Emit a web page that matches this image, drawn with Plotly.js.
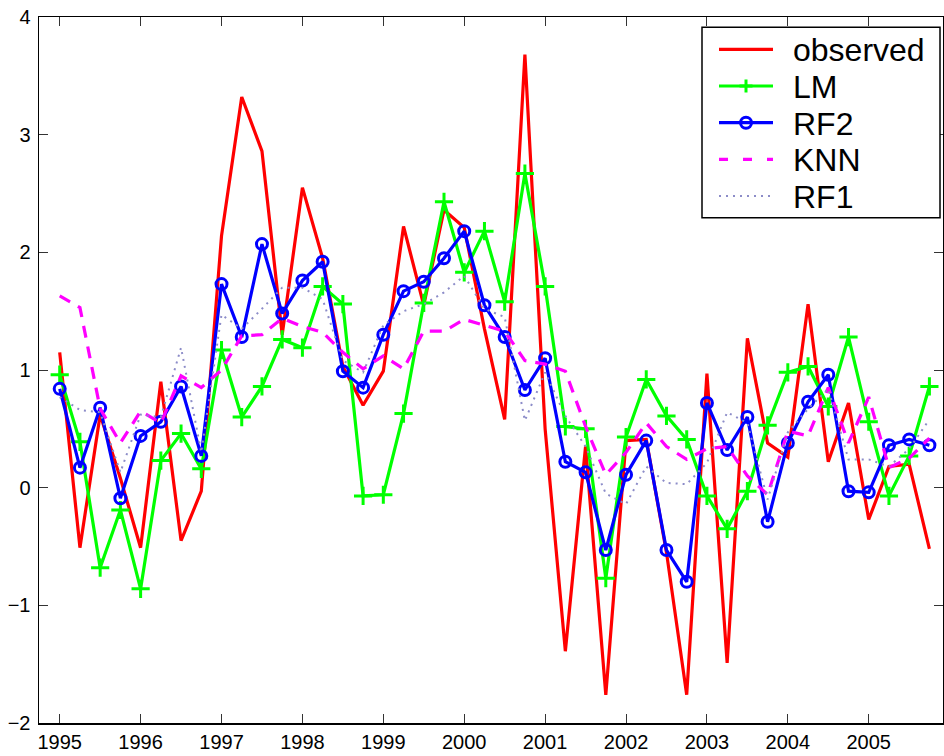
<!DOCTYPE html>
<html>
<head>
<meta charset="utf-8">
<script src="https://cdn.plot.ly/plotly-3.0.1.min.js"></script>
<style>
  html, body { margin: 0; padding: 0; background: #ffffff; }
  #chart { width: 944px; height: 756px; }
</style>
</head>
<body>
<div id="chart"></div>
<script>
// Quarterly time points (1995 Q1 .. 2005 Q4)
const quarters = [
  1995.00, 1995.25, 1995.50, 1995.75, 1996.00, 1996.25, 1996.50, 1996.75,
  1997.00, 1997.25, 1997.50, 1997.75, 1998.00, 1998.25, 1998.50, 1998.75,
  1999.00, 1999.25, 1999.50, 1999.75, 2000.00, 2000.25, 2000.50, 2000.75,
  2001.00, 2001.25, 2001.50, 2001.75, 2002.00, 2002.25, 2002.50, 2002.75,
  2003.00, 2003.25, 2003.50, 2003.75, 2004.00, 2004.25, 2004.50, 2004.75,
  2005.00, 2005.25, 2005.50, 2005.75
];

const observed = [
  1.15, -0.51, 0.62, 0.08, -0.51, 0.90, -0.45, -0.03,
  2.14, 3.32, 2.86, 1.30, 2.55, 1.95, 1.03, 0.70,
  0.99, 2.22, 1.55, 2.36, 2.21, 1.35, 0.58, 3.68,
  0.50, -1.39, 0.35, -1.76, 0.40, 0.41, -0.55, -1.76,
  0.97, -1.49, 1.27, 0.38, 0.26, 1.56, 0.22, 0.72,
  -0.27, 0.18, 0.20, -0.52
];

const LM = [
  0.96, 0.39, -0.68, -0.19, -0.86, 0.23, 0.46, 0.16,
  1.17, 0.60, 0.86, 1.26, 1.19, 1.71, 1.56, -0.07,
  -0.06, 0.63, 1.57, 2.43, 1.83, 2.18, 1.58, 2.67,
  1.71, 0.52, 0.50, -0.77, 0.43, 0.92, 0.61, 0.41,
  -0.07, -0.35, -0.03, 0.53, 0.98, 1.03, 0.69, 1.28,
  0.56, -0.07, 0.27, 0.86
];

const RF2 = [
  0.84, 0.17, 0.68, -0.09, 0.44, 0.56, 0.86, 0.27,
  1.73, 1.28, 2.07, 1.48, 1.76, 1.92, 0.99, 0.85,
  1.30, 1.67, 1.75, 1.95, 2.18, 1.55, 1.28, 0.83,
  1.10, 0.22, 0.13, -0.53, 0.11, 0.40, -0.53, -0.80,
  0.72, 0.32, 0.60, -0.29, 0.38, 0.73, 0.96, -0.03,
  -0.04, 0.36, 0.41, 0.36
];

const KNN = [
  1.63, 1.53, 0.67, 0.38, 0.65, 0.55, 0.95, 0.85,
  1.00, 1.29, 1.30, 1.44, 1.37, 1.32, 1.15, 1.01,
  1.12, 1.01, 1.33, 1.33, 1.43, 1.38, 1.33, 1.08,
  1.05, 0.99, 0.52, 0.11, 0.30, 0.55, 0.35, 0.24,
  0.33, 0.35, 0.10, -0.06, 0.48, 0.44, 0.85, 0.38,
  0.77, 0.17, 0.25, 0.42
];

const RF1 = [
  0.77, 0.66, 0.64, 0.13, 0.62, 0.60, 1.19, 0.30,
  1.47, 1.35, 1.52, 1.70, 1.70, 1.60, 1.08, 0.98,
  1.38, 1.50, 1.56, 1.66, 1.80, 1.52, 1.45, 0.57,
  0.98, 0.61, 0.35, -0.05, -0.14, 0.18, 0.04, 0.03,
  0.21, 0.64, 0.55, -0.10, 0.47, 0.67, 0.84, 0.24,
  0.24, 0.18, 0.33, 0.58
];

const yearTicks = [1995, 1996, 1997, 1998, 1999, 2000, 2001, 2002, 2003, 2004, 2005];
const yearLabels = ["1995", "1996", "1997", "1998", "1999", "2000", "2001", "2002", "2003", "2004", "2005"];
const yTicks = [-2, -1, 0, 1, 2, 3, 4];
const yLabels = ["\u22122", "\u22121", "0", "1", "2", "3", "4"];
const seriesNames = ["observed", "LM", "RF2", "KNN", "RF1"];

const FONT = "Liberation Sans, Arial, Helvetica, sans-serif";
const COLORS = { observed: "#ff0000", LM: "#00ff00", RF2: "#0000ff", KNN: "#ff00ff", RF1: "#8c8cc8" };

const traces = [
  {
    x: quarters, y: observed, name: seriesNames[0], type: "scatter", mode: "lines",
    line: { color: COLORS.observed, width: 3.2 }, showlegend: false
  },
  {
    x: quarters, y: LM, name: seriesNames[1], type: "scatter", mode: "lines+markers",
    line: { color: COLORS.LM, width: 3.2 },
    marker: { symbol: "cross-thin-open", size: 13, color: COLORS.LM, line: { color: COLORS.LM, width: 3 } },
    showlegend: false
  },
  {
    x: quarters, y: RF2, name: seriesNames[2], type: "scatter", mode: "lines+markers",
    line: { color: COLORS.RF2, width: 3.2 },
    marker: { symbol: "circle-open", size: 11, color: COLORS.RF2, line: { color: COLORS.RF2, width: 3 } },
    showlegend: false
  },
  {
    x: quarters, y: KNN, name: seriesNames[3], type: "scatter", mode: "lines",
    line: { color: COLORS.KNN, width: 3.2, dash: "12px,9px" }, showlegend: false
  },
  {
    x: quarters, y: RF1, name: seriesNames[4], type: "scatter", mode: "lines",
    line: { color: COLORS.RF1, width: 2, dash: "2px,5px" }, showlegend: false
  }
];

// ---- Legend box (MATLAB-style), positioned in pixels and converted to paper coordinates ----
const W = 944, H = 756, ML = 39, MR = 1, MT = 17, MB = 33;
const PW = W - ML - MR, PH = H - MT - MB;
const px = v => (v - ML) / PW;
const py = v => (H - MB - v) / PH;

const box = { x0: 702, x1: 940, y0: 27.3, y1: 217.7 };
const rowY = [49.3, 86.0, 122.7, 159.4, 196.1];
const sampleX0 = 719, sampleX1 = 773, sampleMid = 746, textX = 791;

const shapes = [
  { type: "rect", xref: "paper", yref: "paper", layer: "above",
    x0: px(box.x0), x1: px(box.x1), y0: py(box.y1), y1: py(box.y0),
    fillcolor: "#ffffff", line: { color: "#000000", width: 1.5 } }
];
const sampleStyles = [
  { color: COLORS.observed, width: 3.2, dash: "solid" },
  { color: COLORS.LM, width: 3.2, dash: "solid" },
  { color: COLORS.RF2, width: 3.2, dash: "solid" },
  { color: COLORS.KNN, width: 3.2, dash: "9px,15px" },
  { color: COLORS.RF1, width: 2, dash: "2px,5px" }
];
const annotations = [];
seriesNames.forEach((nm, k) => {
  const yc = rowY[k];
  shapes.push({ type: "line", xref: "paper", yref: "paper", layer: "above",
    x0: px(sampleX0), x1: px(sampleX1), y0: py(yc), y1: py(yc), line: sampleStyles[k] });
  annotations.push({ xref: "paper", yref: "paper", x: px(textX), y: py(yc + 1),
    xanchor: "left", yanchor: "middle", showarrow: false, text: nm,
    font: { family: FONT, size: 32, color: "#000000" } });
});
// LM '+' marker in legend
shapes.push({ type: "line", xref: "paper", yref: "paper", layer: "above",
  x0: px(sampleMid - 6.5), x1: px(sampleMid + 6.5), y0: py(rowY[1]), y1: py(rowY[1]),
  line: { color: COLORS.LM, width: 3 } });
shapes.push({ type: "line", xref: "paper", yref: "paper", layer: "above",
  x0: px(sampleMid), x1: px(sampleMid), y0: py(rowY[1] - 6.5), y1: py(rowY[1] + 6.5),
  line: { color: COLORS.LM, width: 3 } });
// RF2 'o' marker in legend
shapes.push({ type: "circle", xref: "paper", yref: "paper", layer: "above",
  x0: px(sampleMid - 5.5), x1: px(sampleMid + 5.5), y0: py(rowY[2] + 5.5), y1: py(rowY[2] - 5.5),
  fillcolor: "rgba(0,0,0,0)", line: { color: COLORS.RF2, width: 3 } });

const axisCommon = {
  showline: true, linecolor: "#000000", linewidth: 1.5,
  mirror: "ticks", ticks: "inside", ticklen: 9, tickwidth: 1, tickcolor: "#333333",
  showgrid: false, zeroline: false,
  tickfont: { family: FONT, size: 20, color: "#000000" }
};

const layout = {
  width: W, height: H,
  margin: { l: ML, r: MR, t: MT, b: MB },
  paper_bgcolor: "#ffffff", plot_bgcolor: "#ffffff",
  showlegend: false,
  xaxis: Object.assign({}, axisCommon, {
    range: [1994.744, 2005.918],
    tickmode: "array", tickvals: yearTicks, ticktext: yearLabels,
    ticklabelstandoff: 0
  }),
  yaxis: Object.assign({}, axisCommon, {
    range: [-2, 4],
    tickmode: "array", tickvals: yTicks, ticktext: yLabels,
    ticklabelstandoff: 3
  }),
  shapes: shapes,
  annotations: annotations
};

Plotly.newPlot("chart", traces, layout, { displayModeBar: false, staticPlot: true });
</script>
</body>
</html>
